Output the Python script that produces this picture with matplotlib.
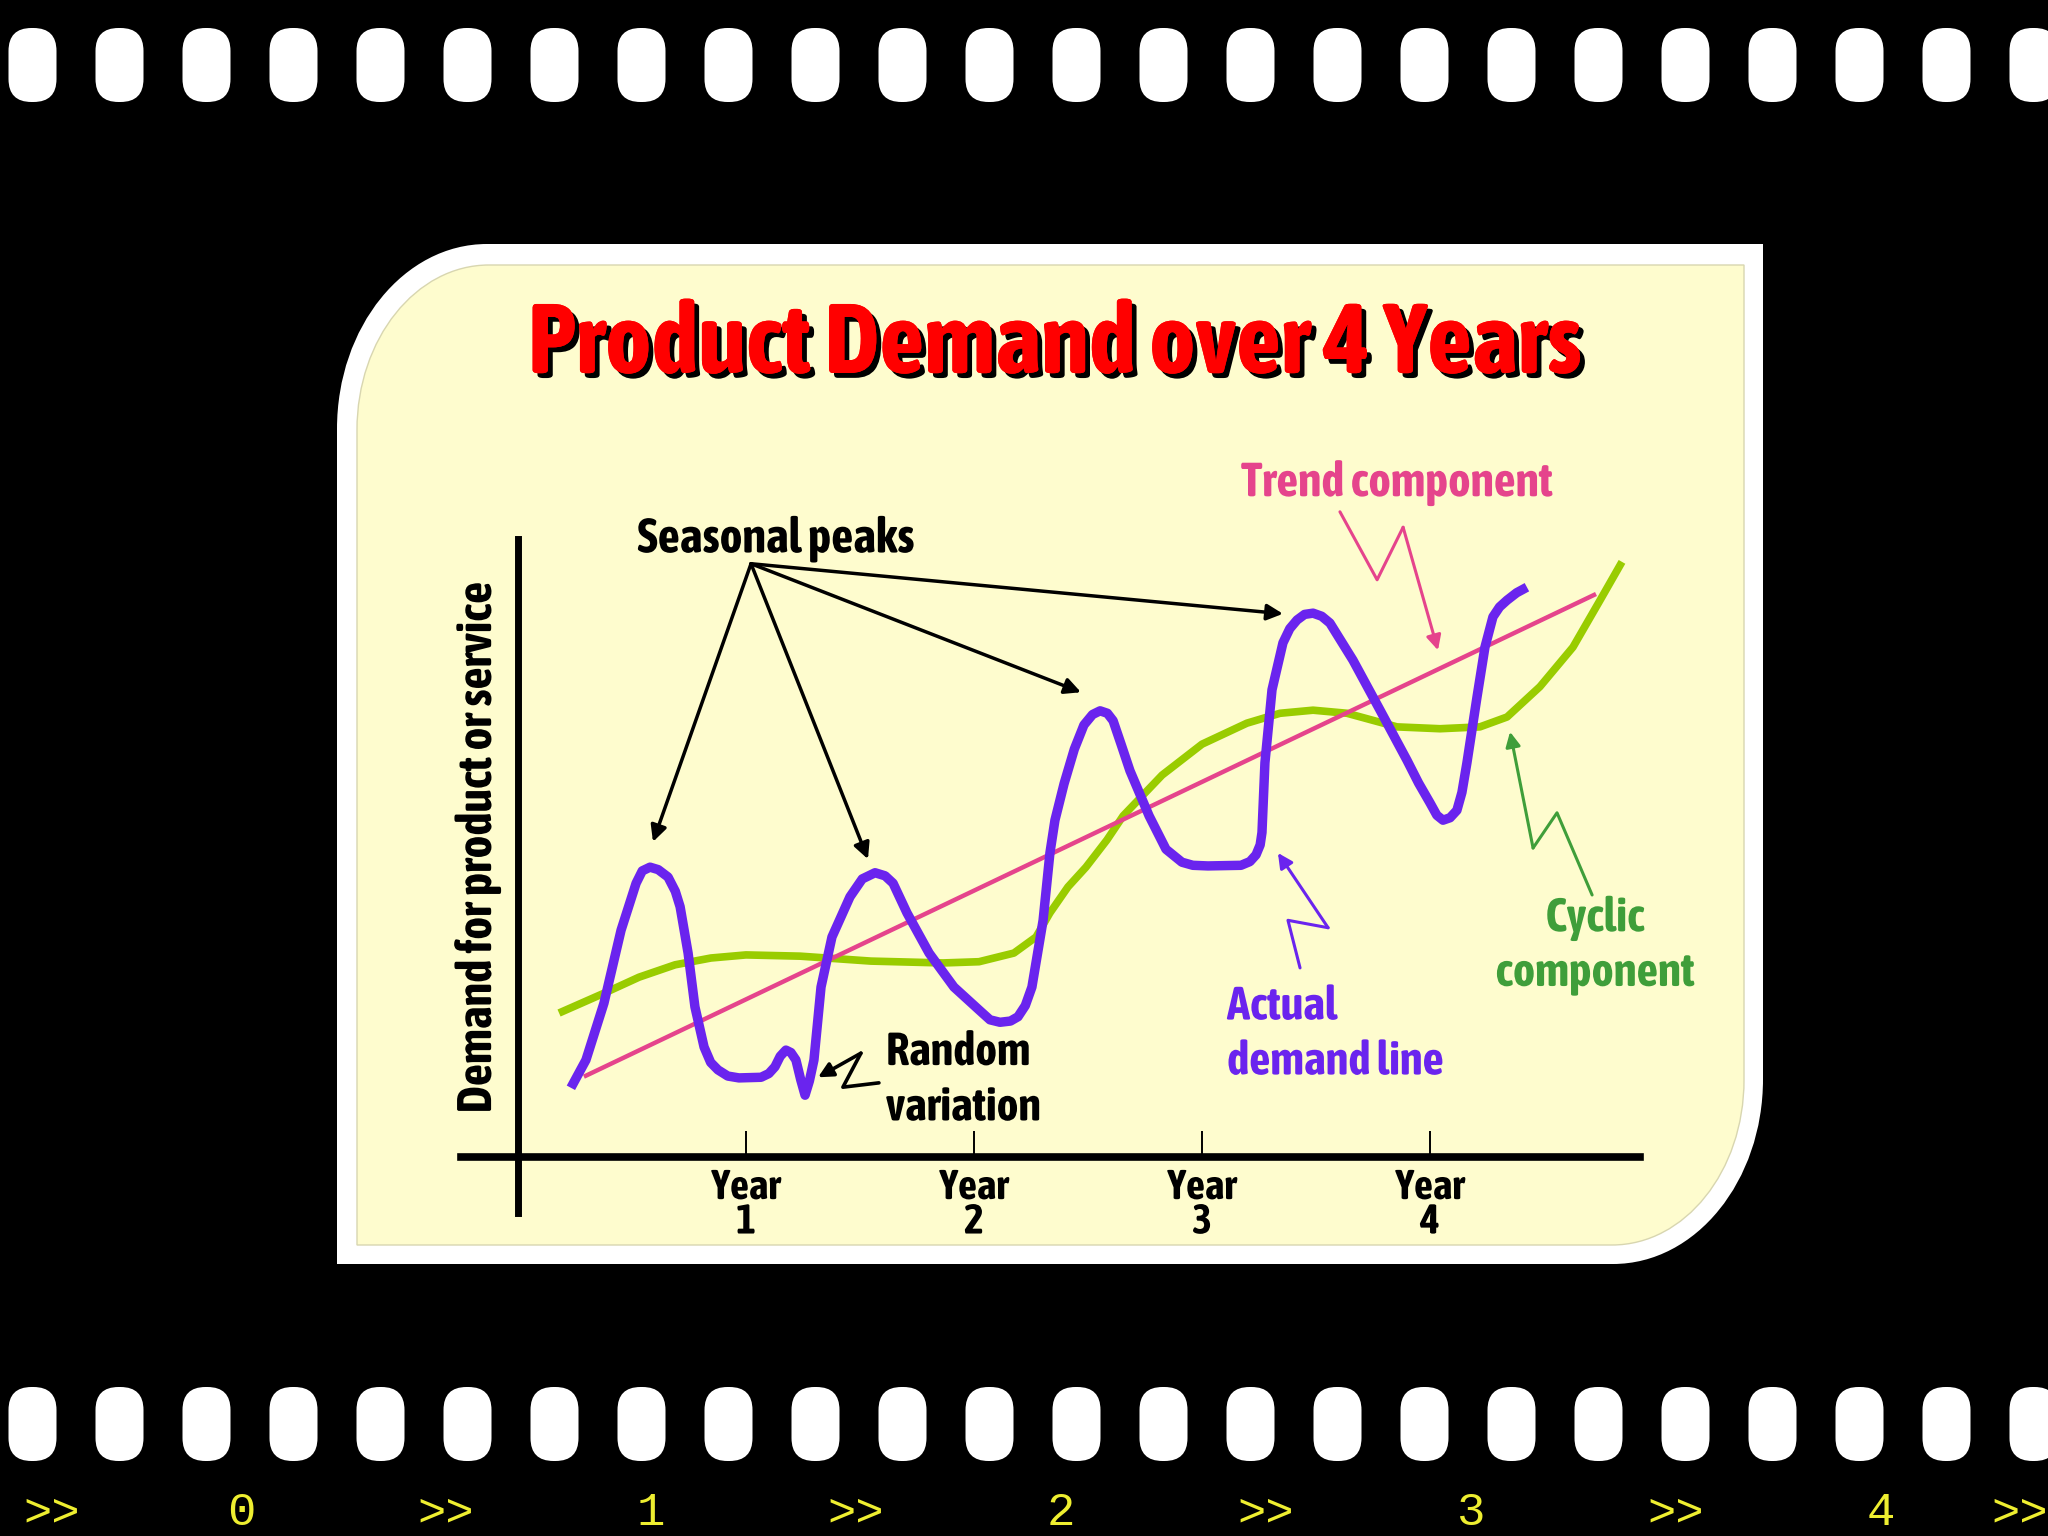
import matplotlib
matplotlib.use("Agg")
import matplotlib.pyplot as plt
import matplotlib.patheffects as pe
from matplotlib import font_manager
from matplotlib.path import Path
from matplotlib.patches import PathPatch, FancyBboxPatch

# DATOS (x en años, y en unidades de demanda)

year_ticks = [1, 2, 3, 4]
year_labels = ["Year\n1", "Year\n2", "Year\n3", "Year\n4"]

trend_x = [0.289, 4.728]
trend_y = [13.0, 91.1]

cyclic_x = [0.180, 0.377, 0.531, 0.689, 0.846, 1.000, 1.237, 1.548, 1.864, 2.022,
            2.175, 2.272, 2.333, 2.412, 2.491, 2.583, 2.654, 2.825, 3.000, 3.197,
            3.342, 3.487, 3.636, 3.855, 4.044, 4.219, 4.338, 4.482, 4.627, 4.746, 4.842]
cyclic_y = [23.3, 26.5, 29.1, 31.1, 32.2, 32.7, 32.5, 31.7, 31.4, 31.6,
            33.0, 35.6, 39.5, 43.7, 46.9, 51.3, 55.2, 61.8, 66.8, 70.2,
            71.8, 72.3, 71.8, 69.6, 69.3, 69.6, 71.2, 76.1, 82.5, 90.1, 96.3]

actual_x = [0.232, 0.298, 0.377, 0.452, 0.518, 0.545, 0.579, 0.615, 0.658, 0.690,
            0.711, 0.746, 0.776, 0.816, 0.845, 0.877, 0.920, 0.969, 1.066, 1.100,
            1.127, 1.150, 1.175, 1.197, 1.219, 1.240, 1.259, 1.278, 1.298, 1.329,
            1.377, 1.456, 1.510, 1.566, 1.610, 1.645, 1.706, 1.803, 1.912, 2.022,
            2.070, 2.114, 2.160, 2.193, 2.225, 2.254, 2.303, 2.333, 2.355, 2.395,
            2.440, 2.482, 2.520, 2.553, 2.585, 2.610, 2.645, 2.684, 2.768, 2.842,
            2.912, 2.960, 3.026, 3.171, 3.210, 3.237, 3.255, 3.263, 3.276, 3.307,
            3.355, 3.385, 3.417, 3.450, 3.487, 3.525, 3.561, 3.662, 3.781, 3.899,
            3.950, 4.000, 4.030, 4.057, 4.088, 4.118, 4.140, 4.162, 4.206, 4.241,
            4.276, 4.305, 4.338, 4.380, 4.425]
actual_y = [11.2, 15.7, 24.9, 36.7, 44.3, 46.3, 46.9, 46.5, 45.3, 43.0,
            40.5, 33.0, 24.3, 17.8, 15.3, 14.1, 13.1, 12.8, 12.9, 13.5,
            14.6, 16.3, 17.3, 16.9, 15.7, 12.5, 10.0, 12.3, 15.7, 27.5,
            35.6, 42.1, 45.0, 46.0, 45.5, 44.3, 39.5, 33.0, 27.5, 23.8,
            22.2, 21.8, 22.0, 22.7, 24.5, 27.5, 38.3, 49.2, 54.5, 60.4,
            66.0, 69.9, 71.6, 72.2, 71.8, 70.6, 66.8, 62.5, 55.2, 49.8,
            47.7, 47.2, 47.1, 47.2, 47.8, 48.9, 50.5, 52.5, 63.8, 75.6,
            83.2, 85.5, 86.9, 87.8, 88.0, 87.5, 86.4, 80.4, 72.3, 64.2,
            60.5, 57.3, 55.3, 54.5, 54.9, 56.1, 59.0, 63.8, 74.4, 82.5,
            87.4, 89.0, 90.1, 91.3, 92.2]

# picos estacionales señalados por las flechas
peaks_x = [0.592, 1.535, 2.469, 3.355]
peaks_y = [51.0, 48.2, 75.2, 87.9]
peaks_origin = (1.022, 96.0)

# flechas en zigzag de las etiquetas
trend_zig_x = [3.605, 3.768, 3.882, 4.035]
trend_zig_y = [104.4, 93.4, 101.9, 82.0]
cyclic_zig_x = [4.711, 4.557, 4.452, 4.351]
cyclic_zig_y = [42.4, 55.7, 50.0, 68.8]
actual_zig_x = [3.430, 3.377, 3.553, 3.333]
actual_zig_y = [30.6, 38.3, 37.1, 49.2]
random_zig_x = [1.583, 1.425, 1.504, 1.316]
random_zig_y = [12.0, 11.3, 16.8, 12.9]

timeline_labels = [">>", "0", ">>", "1", ">>", "2", ">>", "3", ">>", "4", ">>"]

# COLORES Y FUENTES
MORADO = "#6A24EE"
VERDE = "#99CC00"
VERDE_TXT = "#3F9E3A"
ROSA = "#E5448C"
CREMA = "#FEFCCE"


def peso(w):
    if isinstance(w, str):
        return font_manager.weight_dict.get(w, 400)
    return w


# buscar una fuente angosta (narrow / condensed), mejor si es negrita
lista = font_manager.fontManager.ttflist
angostas = [f for f in lista if "Narrow" in f.name or "Condensed" in f.name]
negras = [f for f in angostas if peso(f.weight) >= 600]
if negras:
    NARROW = [sorted(f.name for f in negras)[0], "Liberation Sans", "DejaVu Sans"]
    grosor = 0  # ya es negrita, no hace falta engrosar
elif angostas:
    NARROW = [sorted(f.name for f in angostas)[0], "Liberation Sans", "DejaVu Sans"]
    grosor = 1.8  # engrosar con un trazo del mismo color
else:
    NARROW = ["Liberation Sans", "DejaVu Sans"]
    grosor = 0


def negrita(color, extra=1.0):
    if grosor == 0:
        return [pe.Normal()]
    return [pe.Stroke(linewidth=grosor * extra, foreground=color), pe.Normal()]


W, H = 2048, 1536
fig = plt.figure(figsize=(W / 100, H / 100), dpi=100, facecolor="black")

# FONDO: pelicula (coordenadas en pixeles)
bg = fig.add_axes([0, 0, 1, 1])
bg.set_xlim(0, W)
bg.set_ylim(H, 0)
bg.axis("off")
bg.set_facecolor("black")

for i in range(24):
    x0 = 8.5 + 87 * i
    for y0 in (28, 1387):
        bg.add_patch(FancyBboxPatch((x0, y0), 48, 74,
                                    boxstyle="round,pad=0,rounding_size=23",
                                    fc="white", ec="none"))


def tarjeta(x0, x1, y0, y1, rx, ry):
    # rectangulo con esquinas redondeadas arriba-izquierda y abajo-derecha
    k = 0.5523
    verts = [(x0 + rx, y0), (x1, y0), (x1, y1 - ry),
             (x1, y1 - ry + k * ry), (x1 - rx + k * rx, y1), (x1 - rx, y1),
             (x0, y1), (x0, y0 + ry),
             (x0, y0 + ry - k * ry), (x0 + rx - k * rx, y0), (x0 + rx, y0)]
    codes = [Path.MOVETO, Path.LINETO, Path.LINETO,
             Path.CURVE4, Path.CURVE4, Path.CURVE4,
             Path.LINETO, Path.LINETO,
             Path.CURVE4, Path.CURVE4, Path.CURVE4]
    return Path(verts, codes)


bg.add_patch(PathPatch(tarjeta(337, 1763, 244, 1264, 150, 185), fc="white", ec="none"))
bg.add_patch(PathPatch(tarjeta(357, 1744, 265, 1245, 132, 165), fc=CREMA, ec="#d8d6b0", lw=1))

# linea de tiempo amarilla
xs = {}
for k in range(5):
    xs[2 * k + 1] = 241 + 410 * k
for k in range(1, 5):
    xs[2 * k] = (xs[2 * k - 1] + xs[2 * k + 1]) / 2
xs[0] = 52
xs[10] = 2020
for i, lab in enumerate(timeline_labels):
    bg.text(xs[i], 1513, lab, color="#EEEE30", fontsize=34, family="Liberation Mono",
            ha="center", va="center")

# titulo
efecto_titulo = [pe.withSimplePatchShadow(offset=(3.5, -3.5), shadow_rgbFace="black", alpha=1)]
if grosor:
    efecto_titulo = [pe.Stroke(linewidth=grosor * 2.2, foreground="black", offset=(3.5, -3.5)),
                     pe.Stroke(linewidth=grosor * 2.2, foreground="#FF0000")]
efecto_titulo.append(pe.Normal())
bg.text(1055, 346, "Product Demand over 4 Years", color="#FF0000", fontsize=71,
        fontweight="bold", family=NARROW, ha="center", va="center",
        path_effects=efecto_titulo)

# GRAFICO
ax = fig.add_axes([461 / W, 1 - 1213 / H, (1640 - 461) / W, (1213 - 539) / H])
ax.set_facecolor("none")
ax.set_xlim(-0.25, 4.921)
ax.set_ylim(-9.06, 100)

ax.plot(cyclic_x, cyclic_y, color=VERDE, lw=5.5, solid_capstyle="butt",
        solid_joinstyle="round", zorder=2, clip_on=False)
ax.plot(trend_x, trend_y, color=ROSA, lw=3.2, solid_capstyle="butt", zorder=3, clip_on=False)
ax.plot(actual_x, actual_y, color=MORADO, lw=6.8, solid_capstyle="butt",
        solid_joinstyle="round", zorder=4, clip_on=False)

# ejes en cruz
for lado in ("top", "right"):
    ax.spines[lado].set_visible(False)
ax.spines["left"].set_position(("data", 0))
ax.spines["bottom"].set_position(("data", 0))
ax.spines["left"].set_linewidth(5)
ax.spines["bottom"].set_linewidth(5.5)
ax.set_yticks([])
ax.set_xticks(year_ticks)
ax.set_xticklabels(year_labels, fontsize=30, fontweight="bold",
                   family=NARROW, linespacing=0.82)
for t in ax.get_xticklabels():
    t.set_path_effects(negrita("black"))
ax.tick_params(axis="x", direction="in", length=19, width=1.4, pad=8)

ax.set_ylabel("Demand for product or service", fontsize=35,
              fontweight="bold", family=NARROW, path_effects=negrita("black"))
ax.yaxis.set_label_coords(0.034, 0.543)

# ANOTACIONES
ax.text(1.132, 100.0, "Seasonal peaks", fontsize=35, fontweight="bold", family=NARROW,
        ha="center", va="center", clip_on=False, path_effects=negrita("black"))
for px, py in zip(peaks_x, peaks_y):
    ax.annotate("", xy=(px, py), xytext=peaks_origin, annotation_clip=False,
                arrowprops=dict(arrowstyle="-|>", color="black", lw=2.5,
                                mutation_scale=24, shrinkA=0, shrinkB=0))


def zigzag(zx, zy, color, lw=2.2):
    ax.plot(zx[:-1], zy[:-1], color=color, lw=lw, solid_joinstyle="round",
            solid_capstyle="round", clip_on=False, zorder=5)
    ax.annotate("", xy=(zx[-1], zy[-1]), xytext=(zx[-2], zy[-2]), annotation_clip=False,
                arrowprops=dict(arrowstyle="-|>", color=color, lw=lw,
                                mutation_scale=22, shrinkA=0, shrinkB=0), zorder=5)


zigzag(trend_zig_x, trend_zig_y, ROSA)
zigzag(cyclic_zig_x, cyclic_zig_y, VERDE_TXT)
zigzag(actual_zig_x, actual_zig_y, MORADO)
zigzag(random_zig_x, random_zig_y, "black", lw=2.6)

ax.text(3.855, 109.1, "Trend component", color=ROSA, fontsize=34.5, fontweight="bold",
        family=NARROW, ha="center", va="center", clip_on=False, path_effects=negrita(ROSA))
ax.text(4.724, 34.2, "Cyclic\ncomponent", color=VERDE_TXT, fontsize=34, fontweight="bold",
        family=NARROW, ha="center", va="center", linespacing=1.24, clip_on=False,
        path_effects=negrita(VERDE_TXT))
ax.text(3.110, 19.9, "Actual\ndemand line", color=MORADO, fontsize=33.6, fontweight="bold",
        family=NARROW, ha="left", va="center", linespacing=1.25, clip_on=False,
        path_effects=negrita(MORADO))
ax.text(1.614, 12.5, "Random\nvariation", color="black", fontsize=33.4, fontweight="bold",
        family=NARROW, ha="left", va="center", linespacing=1.26, clip_on=False,
        path_effects=negrita("black"))

fig.savefig("out.png", dpi=100, facecolor="black")
